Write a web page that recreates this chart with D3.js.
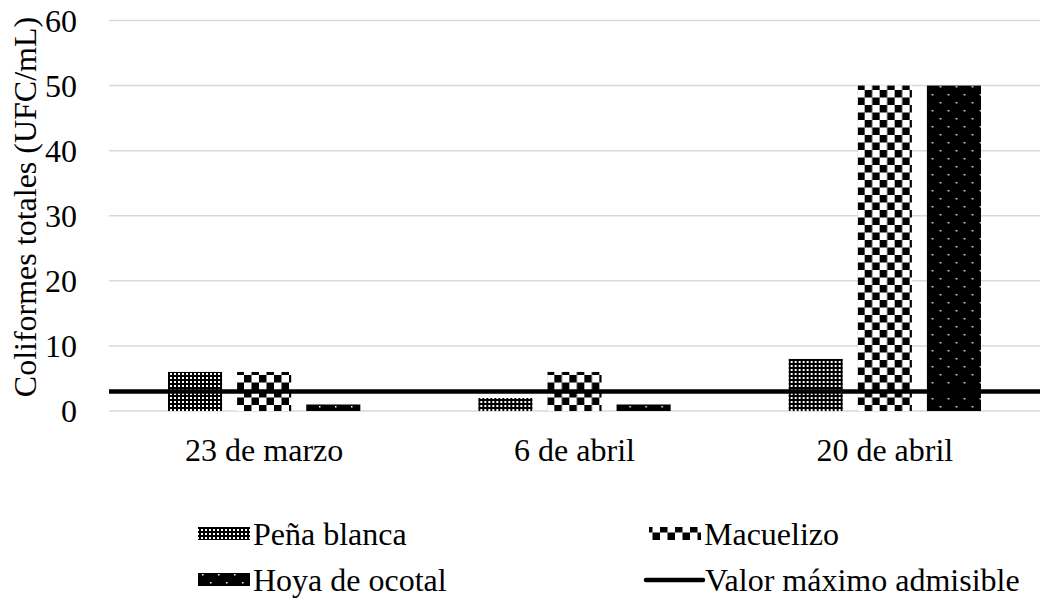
<!DOCTYPE html>
<html><head><meta charset="utf-8">
<script src="https://cdn.jsdelivr.net/npm/d3@7"></script>
<style>body{margin:0;background:#fff}svg{display:block}</style>
</head><body><svg id="c" width="1040" height="604"></svg>
<script>
const categories = ["23 de marzo", "6 de abril", "20 de abril"];
const seriesNames = ["Peña blanca", "Macuelizo", "Hoya de ocotal"];
const penaBlanca = [6, 2, 8];
const macuelizo = [6, 6, 50];
const hoyaOcotal = [1, 1, 50];
const limitName = "Valor máximo admisible";
const limitValue = 3;
const yTicks = [0, 10, 20, 30, 40, 50, 60];
const yTitle = "Coliformes totales (UFC/mL)";

const FONT = "'Times New Roman', 'Liberation Serif', 'DejaVu Serif', serif";
const FS = 32;
const series = [penaBlanca, macuelizo, hoyaOcotal];
const svg = d3.select("#c").style("font-family", FONT);
const defs = svg.append("defs");
// patterns
const p1 = defs.append("pattern").attr("id","pat0").attr("patternUnits","userSpaceOnUse").attr("width",4).attr("height",4);
p1.append("rect").attr("width",4).attr("height",4).attr("fill","#000");
p1.append("rect").attr("x",1).attr("y",1).attr("width",2).attr("height",2).attr("fill","#fff");
const p2 = defs.append("pattern").attr("id","pat1").attr("patternUnits","userSpaceOnUse").attr("width",15).attr("height",15);
p2.append("rect").attr("width",15).attr("height",15).attr("fill","#fff");
p2.append("rect").attr("width",7.5).attr("height",7.5).attr("fill","#000");
p2.append("rect").attr("x",7.5).attr("y",7.5).attr("width",7.5).attr("height",7.5).attr("fill","#000");
const p3 = defs.append("pattern").attr("id","pat2").attr("patternUnits","userSpaceOnUse").attr("width",16).attr("height",16);
p3.append("rect").attr("width",16).attr("height",16).attr("fill","#000");
p3.append("rect").attr("x",2).attr("y",6).attr("width",1.5).attr("height",1.5).attr("fill","#fff");
p3.append("rect").attr("x",10).attr("y",14).attr("width",1.5).attr("height",1.5).attr("fill","#fff");

const x0 = d3.scaleBand().domain(categories).range([109, 1040]).paddingInner(0).paddingOuter(0);
const y = d3.scaleLinear().domain([0, 60]).range([411, 20.5]);
const x1 = d3.scaleBand().domain(d3.range(3)).range([59, x0.bandwidth() - 59]).paddingInner(0.2174);

// gridlines
svg.append("g").selectAll("line").data(yTicks).join("line")
  .attr("x1",109).attr("x2",1040).attr("y1",d=>y(d)).attr("y2",d=>y(d))
  .attr("stroke","#d9d9d9").attr("stroke-width",1.5);

// y tick labels via axis
const yAxis = svg.append("g").attr("transform","translate(77,0)")
  .call(d3.axisLeft(y).tickValues(yTicks).tickSize(0).tickPadding(0).tickFormat(d3.format("d")));
yAxis.attr("font-family", null).attr("font-size", FS);
yAxis.select(".domain").remove();
yAxis.selectAll("text").style("font-family",FONT).style("font-size",FS+"px").attr("fill","#000").attr("dy","0.34em");

// bars
categories.forEach((c, ci) => {
  const g = svg.append("g").attr("transform",`translate(${x0(c)},0)`);
  series.forEach((s, si) => {
    g.append("rect").attr("x", x1(si)).attr("width", x1.bandwidth())
      .attr("y", y(s[ci])).attr("height", y(0) - y(s[ci]))
      .attr("fill", `url(#pat${si})`);
  });
});

// limit line
svg.append("line").attr("x1",109).attr("x2",1040).attr("y1",y(limitValue)).attr("y2",y(limitValue))
  .attr("stroke","#000").attr("stroke-width",4.5);

// x labels via axis
const xAxis = svg.append("g").attr("transform","translate(0,438)")
  .call(d3.axisBottom(x0).tickSize(0).tickPadding(0));
xAxis.attr("font-family", null).attr("font-size", FS);
xAxis.select(".domain").remove();
xAxis.selectAll("text").style("font-family",FONT).style("font-size",FS+"px").attr("fill","#000").attr("dy","0.71em");

// y title
svg.append("text").attr("transform","translate(36,207) rotate(-90)").attr("text-anchor","middle")
  .style("font-family",FONT).style("font-size",FS+"px").attr("fill","#000").text(yTitle);

// legend
const legendItems = [
  {name: seriesNames[0], type:"rect", pat:0, x:198, y:534},
  {name: seriesNames[1], type:"rect", pat:1, x:649, y:534},
  {name: seriesNames[2], type:"rect", pat:2, x:198, y:580},
  {name: limitName, type:"line", x:646, y:580}
];
legendItems.forEach(it => {
  if (it.type === "rect") {
    svg.append("rect").attr("x",it.x).attr("y",it.y-7).attr("width",52).attr("height",13).attr("fill",`url(#pat${it.pat})`);
  } else {
    svg.append("line").attr("x1",it.x).attr("x2",it.x+57).attr("y1",it.y).attr("y2",it.y).attr("stroke","#000").attr("stroke-width",4.5).attr("stroke-linecap","round");
  }
  svg.append("text").attr("x", it.type === "rect" ? it.x+55 : it.x+59).attr("y",it.y+11)
    .style("font-family",FONT).style("font-size",FS+"px").attr("fill","#000").text(it.name);
});
</script></body></html>
